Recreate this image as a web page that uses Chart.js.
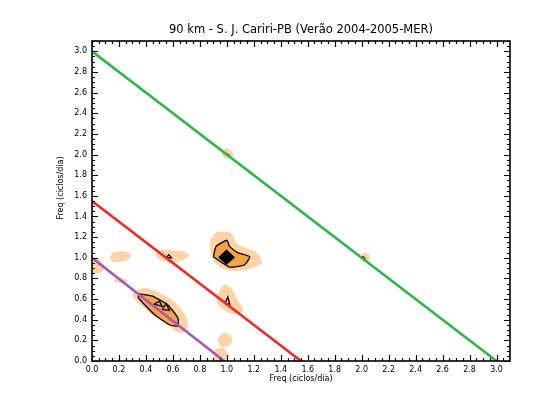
<!DOCTYPE html>
<html><head><meta charset="utf-8">
<script src="https://cdn.jsdelivr.net/npm/chart.js@4/dist/chart.umd.min.js"></script>
<style>html,body{margin:0;padding:0;background:#fff}</style>
</head><body>
<canvas id="c" width="542" height="419"></canvas>
<script>
// ---- text ----
const titleText = "90 km - S. J. Cariri-PB (Verão 2004-2005-MER)";
const xTitleText = "Freq (ciclos/dia)";
const yTitleText = "Freq (ciclos/dia)";
// ---- axis ----
const axisMin = 0, axisMax = 3.1;
const tickLabels = [0.0,0.2,0.4,0.6,0.8,1.0,1.2,1.4,1.6,1.8,2.0,2.2,2.4,2.6,2.8,3.0];
const minorStep = 0.05;
// ---- straight lines (f1 + f2 = const) ----
const lineGreen = [[0,3.0],[3.0,0]];
const lineRed = [[0,1.55],[1.55,0]];
const linePurple = [[0,1.0],[0.98,0]];
// ---- contour level 1 (light) ----
const light1 = [[0.92,1.25],[0.88,1.17],[0.88,1.05],[0.93,0.93],[1.0,0.88],[1.13,0.88],[1.26,0.95],[1.22,1.05],[1.08,1.13],[1.03,1.24]];
const light2 = [[0.47,1.03],[0.52,1.08],[0.60,1.07],[0.68,1.06],[0.72,1.02],[0.66,0.97],[0.58,0.95],[0.50,0.98]];
const light3 = [[0.13,1.0],[0.16,1.05],[0.25,1.06],[0.29,1.02],[0.25,0.97],[0.16,0.96]];
const light4 = [[0.0,1.01],[0.04,0.99],[0.09,0.93],[0.07,0.86],[0.0,0.86]];
const light5 = [[0.16,0.79],[0.22,0.80],[0.27,0.78],[0.22,0.76],[0.17,0.76]];
const light6 = [[0.32,0.67],[0.39,0.71],[0.50,0.66],[0.615,0.57],[0.69,0.45],[0.71,0.32],[0.65,0.27],[0.56,0.35],[0.43,0.465],[0.34,0.57],[0.30,0.63]];
const light7 = [[0.93,0.64],[0.985,0.74],[1.04,0.69],[1.08,0.59],[1.12,0.49],[1.06,0.455],[0.985,0.49],[0.93,0.56]];
const light8 = [[0.93,0.20],[0.96,0.26],[1.0,0.27],[1.04,0.22],[1.02,0.15],[0.96,0.14]];
const light9 = [[0.92,0.12],[0.97,0.13],[1.0,0.08],[1.0,0.0],[0.92,0.0],[0.90,0.05]];
const light10 = [[0.96,2.0],[0.99,2.06],[1.03,2.04],[1.05,2.0],[1.02,1.96],[0.98,1.97]];
const light11 = [[1.99,1.0],[2.02,1.05],[2.06,1.02],[2.05,0.97],[2.01,0.96]];
// ---- contour level 2 (orange, outlined) ----
const mid1 = [[0.90,1.01],[0.92,1.11],[1.0,1.17],[1.02,1.11],[1.08,1.05],[1.17,1.01],[1.13,0.93],[1.02,0.91]];
const mid2 = [[0.356,0.65],[0.444,0.63],[0.563,0.543],[0.637,0.417],[0.637,0.339],[0.578,0.349],[0.467,0.446],[0.378,0.562],[0.341,0.62]];
// ---- contour level 3 (black) ----
const dark1 = [[0.94,1.005],[0.998,1.075],[1.057,1.005],[0.998,0.935]];
// ---- small black contour marks ----
const mark1 = [[0.985,0.552],[1.007,0.62],[1.022,0.552]];
const mark2 = [[0.55,1.0],[0.57,1.03],[0.59,1.0]];
const mark3 = [[0.46,0.55],[0.50,0.58],[0.52,0.53]];
const mark4 = [[0.52,0.50],[0.55,0.555],[0.575,0.49]];
const mark5 = [[0.99,2.0],[1.0,2.01],[1.01,2.0]];
const mark6 = [[2.0,1.0],[2.01,1.01],[2.02,1.0]];

const C_LIGHT = '#fdd3a8', C_MID = '#f9a443', C_DARK = '#000000';

function pts(a, close){ const p = a.map(([x,y])=>({x,y})); if(close) p.push({x:a[0][0],y:a[0][1]}); return p; }
function poly(a, fillC, borderC, bw, order, tension){
  return {data: pts(a,true), showLine:true, fill:'shape', backgroundColor:fillC,
    borderColor:borderC, borderWidth:bw, pointRadius:0, tension:tension, order:order};
}
function seg(a, color){
  return {data: pts(a,false), showLine:true, fill:false, borderColor:color, borderWidth:2.6, pointRadius:0, order:0};
}
const datasets = [];
[light1,light2,light3,light4,light5,light6,light7,light8,light9,light10,light11].forEach(a=>datasets.push(poly(a,C_LIGHT,'rgba(0,0,0,0)',0,5,0.3)));
[mid1,mid2].forEach(a=>datasets.push(poly(a,C_MID,'#000',1.3,4,0.15)));
datasets.push(poly(dark1,C_DARK,'#000',1,3,0));
[mark1,mark2,mark3,mark4,mark5,mark6].forEach(a=>datasets.push(poly(a,'rgba(0,0,0,0)','#000',1.3,2,0)));
datasets.push(seg(lineGreen,'#2fb64c'));
datasets.push(seg(lineRed,'#ee2b2b'));
datasets.push(seg(linePurple,'#a658b6'));

const frame = {
  id:'frame',
  afterDatasetsDraw(chart){
    const {ctx, chartArea:a, scales:{x,y}} = chart;
    ctx.save();
    ctx.strokeStyle='#000'; ctx.lineWidth=1.6;
    ctx.strokeRect(a.left, a.top, a.right-a.left, a.bottom-a.top);
    ctx.lineWidth=1.2;
    ctx.beginPath();
    const n = Math.round((axisMax-axisMin)/minorStep);
    for(let i=0;i<=n;i++){
      const v = axisMin + i*minorStep;
      const major = (i%4===0);
      const L = major?6:3;
      const px = Math.round(x.getPixelForValue(v))+0.5;
      const py = Math.round(y.getPixelForValue(v))+0.5;
      if(px<=a.right){ ctx.moveTo(px,a.bottom); ctx.lineTo(px,a.bottom-L); ctx.moveTo(px,a.top); ctx.lineTo(px,a.top+L); }
      if(py>=a.top){ ctx.moveTo(a.left,py); ctx.lineTo(a.left+L,py); ctx.moveTo(a.right,py); ctx.lineTo(a.right-L,py); }
    }
    ctx.stroke();
    ctx.restore();
  },
  afterDraw(chart){
    const {ctx, chartArea:a} = chart;
    ctx.save();
    ctx.fillStyle='#000';
    ctx.font='8px "DejaVu Sans"';
    ctx.textAlign='center'; ctx.textBaseline='middle';
    ctx.translate(61,188); ctx.rotate(-Math.PI/2);
    ctx.fillText(yTitleText,0,0);
    ctx.restore();
  }
};

new Chart(document.getElementById('c'), {
  type:'scatter',
  data:{datasets},
  options:{
    responsive:false, animation:false,
    layout:{padding:{left:0,right:32,top:0,bottom:0}},
    plugins:{
      legend:{display:false}, tooltip:{enabled:false},
      title:{display:true, text:titleText, fullSize:false, color:'#000',
        font:{family:'DejaVu Sans', size:11.5, weight:'normal'}, padding:{top:23,bottom:4.2}}
    },
    scales:{
      x:{type:'linear', min:axisMin, max:axisMax,
        afterBuildTicks(s){ s.ticks = tickLabels.map(v=>({value:v})); },
        afterFit(s){ s.height = 58; },
        grid:{display:false, drawTicks:false}, border:{display:false},
        ticks:{color:'#000', padding:4, maxRotation:0, autoSkip:false, font:{family:'DejaVu Sans', size:8},
          callback:(v)=>Number(v).toFixed(1)},
        title:{display:true, text:xTitleText, color:'#000', font:{family:'DejaVu Sans', size:8}, padding:{top:0,bottom:35}}
      },
      y:{type:'linear', min:axisMin, max:axisMax,
        afterBuildTicks(s){ s.ticks = tickLabels.map(v=>({value:v})); },
        afterFit(s){ s.width = 92; },
        grid:{display:false, drawTicks:false}, border:{display:false},
        ticks:{color:'#000', padding:5, autoSkip:false, font:{family:'DejaVu Sans', size:8},
          callback:(v)=>Number(v).toFixed(1)}
      }
    }
  },
  plugins:[frame]
});
</script>
</body></html>
